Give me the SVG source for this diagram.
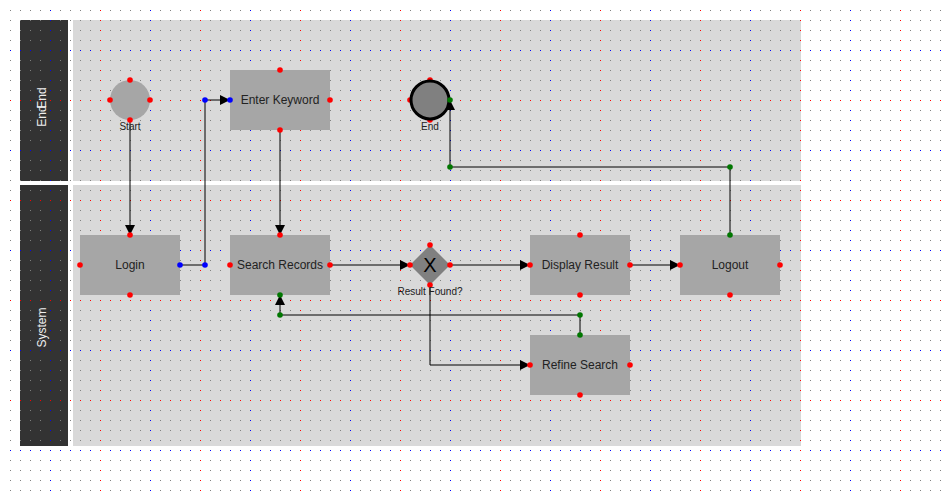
<svg xmlns="http://www.w3.org/2000/svg" width="950" height="500" viewBox="0 0 950 500">
<style>
.lanehd{fill:#333333}
.lanebd{fill:#d9d9d9}
.lanetx{fill:#eeeeee;font-family:"Liberation Sans",Arial,sans-serif;font-size:12px;text-anchor:middle;dominant-baseline:central}
.box{fill:#a6a6a6}
.lbl{fill:#222222;font-family:"Liberation Sans",Arial,sans-serif;font-size:12px;text-anchor:middle;dominant-baseline:central}
.sm{fill:#222222;font-family:"Liberation Sans",Arial,sans-serif;font-size:10px;text-anchor:middle}
.edge{fill:none;stroke:#000000;stroke-width:1}
.pr{fill:#ff0000}
.pb{fill:#0000ff}
.pg{fill:#007700}
</style>
<defs>
<pattern id="gGray" patternUnits="userSpaceOnUse" x="0" y="0" width="10" height="10">
<rect x="0" y="0" width="1" height="1" fill="#808080"/>
</pattern>
<pattern id="gBlue" patternUnits="userSpaceOnUse" x="0" y="0" width="100" height="100">
<path d="M50.5,0V100M0,50.5H100" stroke="#0000ff" stroke-width="1" stroke-dasharray="1 9" fill="none"/>
</pattern>
<pattern id="gRed" patternUnits="userSpaceOnUse" x="0" y="0" width="100" height="100">
<path d="M0.5,0V100M0,0.5H100" stroke="#ff0000" stroke-width="1" stroke-dasharray="1 9" fill="none"/>
</pattern>
<marker id="arr" markerUnits="userSpaceOnUse" markerWidth="10" markerHeight="10" refX="10" refY="5" orient="auto">
<path d="M0,0 L10,5 L0,10 Z" fill="#000000"/>
</marker>
</defs>
<rect width="950" height="500" fill="#ffffff"/>
<g id="lane-end">
<rect class="lanehd" x="20" y="20" width="48" height="161"/>
<rect class="lanebd" x="73" y="20" width="728" height="161"/>
<text class="lanetx" transform="translate(41.5,116) rotate(-90)">End</text>
<text class="lanetx" transform="translate(41.5,98) rotate(-90)">End</text>
</g>
<g id="lane-system">
<rect class="lanehd" x="20" y="185" width="48" height="261"/>
<rect class="lanebd" x="73" y="185" width="728" height="261"/>
<text class="lanetx" transform="translate(41.5,327.5) rotate(-90)">System</text>
</g>
<g id="grid">
<rect x="10" y="10" width="931" height="481" fill="url(#gGray)"/>
<rect x="10" y="10" width="931" height="481" fill="url(#gBlue)"/>
<rect x="10" y="10" width="931" height="481" fill="url(#gRed)"/>
</g>
<g id="connectors">
<path class="edge" d="M130,120V235" marker-end="url(#arr)"/>
<path class="edge" d="M180,265H205V100H230" marker-end="url(#arr)"/>
<path class="edge" d="M280,130V235" marker-end="url(#arr)"/>
<path class="edge" d="M330,265H410" marker-end="url(#arr)"/>
<path class="edge" d="M450,265H530" marker-end="url(#arr)"/>
<path class="edge" d="M430,285V365H530" marker-end="url(#arr)"/>
<path class="edge" d="M630,265H680" marker-end="url(#arr)"/>
<path class="edge" d="M730,235V167H450V100" marker-end="url(#arr)"/>
<path class="edge" d="M580,335V315H280V295" marker-end="url(#arr)"/>
<circle class="pb" cx="205" cy="265" r="2.8"/>
<circle class="pb" cx="205" cy="100" r="2.8"/>
<circle class="pg" cx="730" cy="167" r="2.8"/>
<circle class="pg" cx="450" cy="167" r="2.8"/>
<circle class="pg" cx="580" cy="315" r="2.8"/>
<circle class="pg" cx="280" cy="315" r="2.8"/>
</g>
<g id="start">
<circle cx="130" cy="100" r="20" fill="#a6a6a6"/>
<circle class="pr" cx="130" cy="80" r="2.8"/>
<circle class="pr" cx="110" cy="100" r="2.8"/>
<circle class="pr" cx="150" cy="100" r="2.8"/>
<circle class="pr" cx="130" cy="120" r="2.8"/>
<text class="sm" x="130" y="130">Start</text>
</g>
<g id="enter-keyword">
<rect class="box" x="230" y="70" width="100" height="60"/>
<text class="lbl" x="280" y="100">Enter Keyword</text>
<circle class="pr" cx="280" cy="70" r="2.8"/>
<circle class="pr" cx="330" cy="100" r="2.8"/>
<circle class="pr" cx="280" cy="130" r="2.8"/>
<circle class="pb" cx="230" cy="100" r="2.8"/>
</g>
<g id="end">
<circle class="pr" cx="430" cy="80" r="2.8"/>
<circle class="pr" cx="410" cy="100" r="2.8"/>
<circle class="pr" cx="430" cy="120" r="2.8"/>
<circle cx="430" cy="100" r="19" fill="#808080" stroke="#000000" stroke-width="3"/>
<circle class="pg" cx="450" cy="100" r="2.8"/>
<text class="sm" x="430" y="130">End</text>
</g>
<g id="login">
<rect class="box" x="80" y="235" width="100" height="60"/>
<text class="lbl" x="130" y="265">Login</text>
<circle class="pr" cx="130" cy="235" r="2.8"/>
<circle class="pr" cx="80" cy="265" r="2.8"/>
<circle class="pb" cx="180" cy="265" r="2.8"/>
<circle class="pr" cx="130" cy="295" r="2.8"/>
</g>
<g id="search-records">
<rect class="box" x="230" y="235" width="100" height="60"/>
<text class="lbl" x="280" y="265">Search Records</text>
<circle class="pr" cx="280" cy="235" r="2.8"/>
<circle class="pr" cx="230" cy="265" r="2.8"/>
<circle class="pr" cx="330" cy="265" r="2.8"/>
<circle class="pg" cx="280" cy="295" r="2.8"/>
</g>
<g id="result-found">
<polygon points="430,245 450,265 430,285 410,265" fill="#808080"/>
<text x="430" y="265" font-family="'Liberation Sans',Arial,sans-serif" font-size="20" text-anchor="middle" dominant-baseline="central" fill="#000000">X</text>
<circle class="pr" cx="430" cy="245" r="2.8"/>
<circle class="pr" cx="410" cy="265" r="2.8"/>
<circle class="pr" cx="450" cy="265" r="2.8"/>
<circle class="pr" cx="430" cy="285" r="2.8"/>
<text class="sm" x="430" y="295">Result Found?</text>
</g>
<g id="display-result">
<rect class="box" x="530" y="235" width="100" height="60"/>
<text class="lbl" x="580" y="265">Display Result</text>
<circle class="pr" cx="580" cy="235" r="2.8"/>
<circle class="pr" cx="530" cy="265" r="2.8"/>
<circle class="pr" cx="630" cy="265" r="2.8"/>
<circle class="pr" cx="580" cy="295" r="2.8"/>
</g>
<g id="logout">
<rect class="box" x="680" y="235" width="100" height="60"/>
<text class="lbl" x="730" y="265">Logout</text>
<circle class="pg" cx="730" cy="235" r="2.8"/>
<circle class="pr" cx="680" cy="265" r="2.8"/>
<circle class="pr" cx="780" cy="265" r="2.8"/>
<circle class="pr" cx="730" cy="295" r="2.8"/>
</g>
<g id="refine-search">
<rect class="box" x="530" y="335" width="100" height="60"/>
<text class="lbl" x="580" y="365">Refine Search</text>
<circle class="pg" cx="580" cy="335" r="2.8"/>
<circle class="pr" cx="530" cy="365" r="2.8"/>
<circle class="pr" cx="630" cy="365" r="2.8"/>
<circle class="pr" cx="580" cy="395" r="2.8"/>
</g>
</svg>
